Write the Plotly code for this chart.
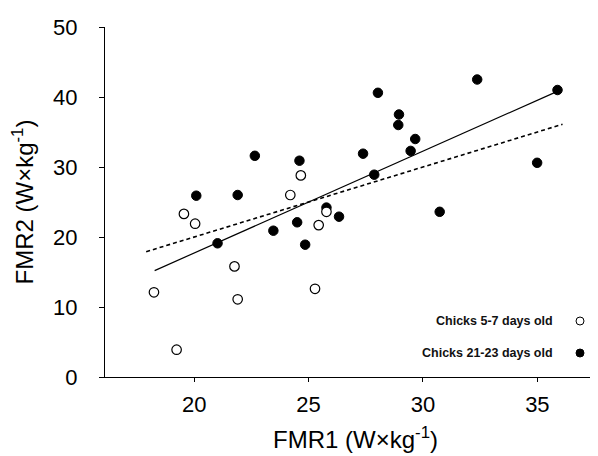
import plotly.graph_objects as go

# Chicks 5-7 days old (open circles)
young_fmr1 = [18.24, 19.23, 19.55, 20.04, 21.76, 21.9, 24.2, 24.66, 25.28, 25.44, 25.78]
young_fmr2 = [12.1, 3.9, 23.3, 21.9, 15.8, 11.1, 26.0, 28.8, 12.6, 21.7, 23.6]

# Chicks 21-23 days old (filled circles)
old_fmr1 = [20.09, 21.9, 21.02, 23.46, 24.5, 24.85, 26.33, 22.65, 24.6, 27.38, 27.87,
            28.03, 28.95, 28.92, 29.66, 29.46, 30.73, 32.37, 34.99, 35.88, 25.78]
old_fmr2 = [25.9, 26.0, 19.1, 20.9, 22.1, 18.9, 22.9, 31.6, 30.9, 31.9, 28.9,
            40.6, 37.5, 36.0, 34.0, 32.3, 23.6, 42.5, 30.6, 41.0, 24.2]

# Regression line (solid) endpoints
fit_x = [18.27, 35.8]
fit_y = [15.2, 40.7]
# Line of equality (dashed)
ident_x = [17.9, 36.1]
ident_y = [17.9, 36.1]

x_ticks = [20, 25, 30, 35]
y_ticks = [0, 10, 20, 30, 40, 50]

FONT = "Arial, Liberation Sans, sans-serif"

fig = go.Figure()
fig.add_trace(go.Scatter(x=ident_x, y=ident_y, mode="lines",
                         line=dict(color="black", width=1.6, dash="4px,3px"), showlegend=False))
fig.add_trace(go.Scatter(x=fit_x, y=fit_y, mode="lines",
                         line=dict(color="black", width=1.2), showlegend=False))
fig.add_trace(go.Scatter(x=old_fmr1, y=old_fmr2, mode="markers", name="Chicks 21-23 days old",
                         marker=dict(color="black", size=9.5, line=dict(color="black", width=1)),
                         showlegend=False))
fig.add_trace(go.Scatter(x=young_fmr1, y=young_fmr2, mode="markers", name="Chicks 5-7 days old",
                         marker=dict(color="white", size=9.5, line=dict(color="black", width=1.2)),
                         showlegend=False))

L, R, T, B = 97, 0, 19, 87
W, H = 598, 456
pw, ph = W - L - R, H - T - B

def px(xp):
    return (xp - L) / pw

def py(yp):
    return (H - B - yp) / ph

annotations = [
    dict(text="<b>Chicks 5-7 days old</b>", x=px(547), y=py(313), xref="paper", yref="paper",
         xanchor="right", yanchor="middle", showarrow=False,
         font=dict(family=FONT, size=12.5, color="#111")),
    dict(text="<b>Chicks 21-23 days old</b>", x=px(547), y=py(345), xref="paper", yref="paper",
         xanchor="right", yanchor="middle", showarrow=False,
         font=dict(family=FONT, size=12.5, color="#111")),
]
shapes = []
for (cy, fill) in [(313, "white"), (345, "black")]:
    r = 4
    shapes.append(dict(type="circle", xref="paper", yref="paper",
                       x0=px(572 - r), x1=px(572 + r), y0=py(cy + r), y1=py(cy - r),
                       fillcolor=fill, line=dict(color="black", width=1)))

fig.update_layout(
    width=W, height=H,
    margin=dict(l=L, r=R, t=T, b=B),
    plot_bgcolor="white", paper_bgcolor="white",
    font=dict(family=FONT, color="black"),
    annotations=annotations, shapes=shapes,
    xaxis=dict(range=[16.1, 38], tickvals=x_ticks, ticks="outside", ticklen=4, tickwidth=1,
               tickcolor="black", showline=True, linecolor="black", linewidth=1,
               showgrid=False, zeroline=False, tickfont=dict(size=22, family=FONT),
               ticklabelstandoff=4,
               title=dict(text="FMR1 (W×kg<sup>-1</sup>)", font=dict(size=24, family=FONT), standoff=14)),
    yaxis=dict(range=[0, 50], tickvals=y_ticks, ticks="outside", ticklen=5, tickwidth=1,
               tickcolor="black", showline=True, linecolor="black", linewidth=1,
               showgrid=False, zeroline=False, tickfont=dict(size=22, family=FONT),
               ticklabelstandoff=17,
               title=dict(text="FMR2 (W×kg<sup>-1</sup>)", font=dict(size=24, family=FONT), standoff=14)),
)

fig.write_html("out.html")
